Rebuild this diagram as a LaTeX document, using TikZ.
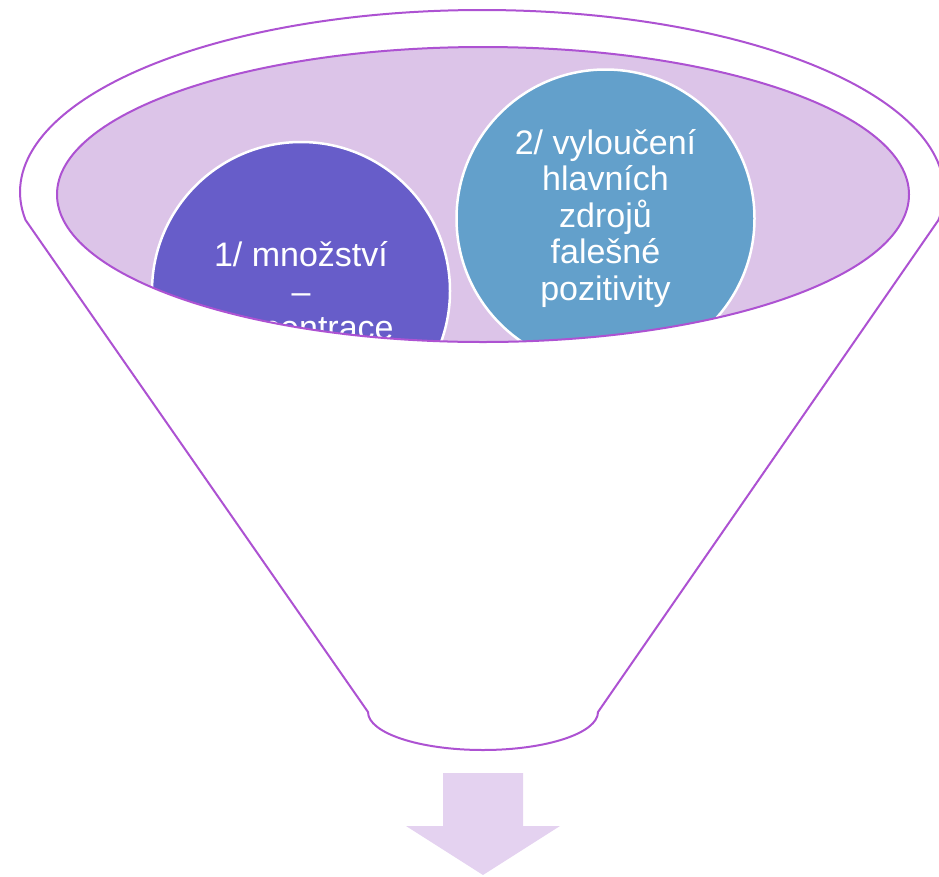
\documentclass[tikz,border=0pt]{standalone}
\usepackage{fontspec}
\setmainfont{Liberation Sans}
\definecolor{rimline}{HTML}{AD52D2}
\definecolor{mouthfill}{HTML}{DCC4E8}
\definecolor{bubbleA}{HTML}{675DC9}
\definecolor{bubbleB}{HTML}{63A0CB}
\definecolor{arrowfill}{HTML}{E4D2F0}
\tikzset{
  funnelline/.style={draw=rimline, line width=2pt},
  bubble/.style={circle, draw=white, line width=2.5pt, minimum size=298pt,
    inner sep=0pt, text=white, align=center,
    font=\fontsize{34}{36.5}\selectfont},
}
\begin{document}
\begin{tikzpicture}[x=1pt, y=-1pt]
\useasboundingbox (0,0) rectangle (939,876);
\clip (0,0) rectangle (939,876);

% funnel body: upper rim arc, straight sides and rounded spout
\path[funnelline, fill=white]
  (938.5,220) arc[start angle=8.85, end angle=-188.85, x radius=462, y radius=182]
  -- (368,712) arc[start angle=180, end angle=0, x radius=115, y radius=38]
  -- cycle;

% mouth of the funnel
\path[fill=mouthfill] (483,194.5) ellipse [x radius=426, y radius=147.5];
\begin{scope}
  \clip (483,194.5) ellipse [x radius=426, y radius=147.5];
  \node[bubble, fill=bubbleA] (qty) at (301,291) {1/ množství\\–\\koncentrace};
  \node[bubble, fill=bubbleB] (fp) at (605.5,218.5) {2/ vyloučení\\hlavních\\zdrojů\\falešné\\pozitivity};
\end{scope}
\path[funnelline] (483,194.5) ellipse [x radius=426, y radius=147.5];

% output arrow below the spout
\fill[arrowfill] (443,773) -- (523,773) -- (523,826) -- (560,826) -- (483,875)
  -- (406,826) -- (443,826) -- cycle;
\end{tikzpicture}
\end{document}
